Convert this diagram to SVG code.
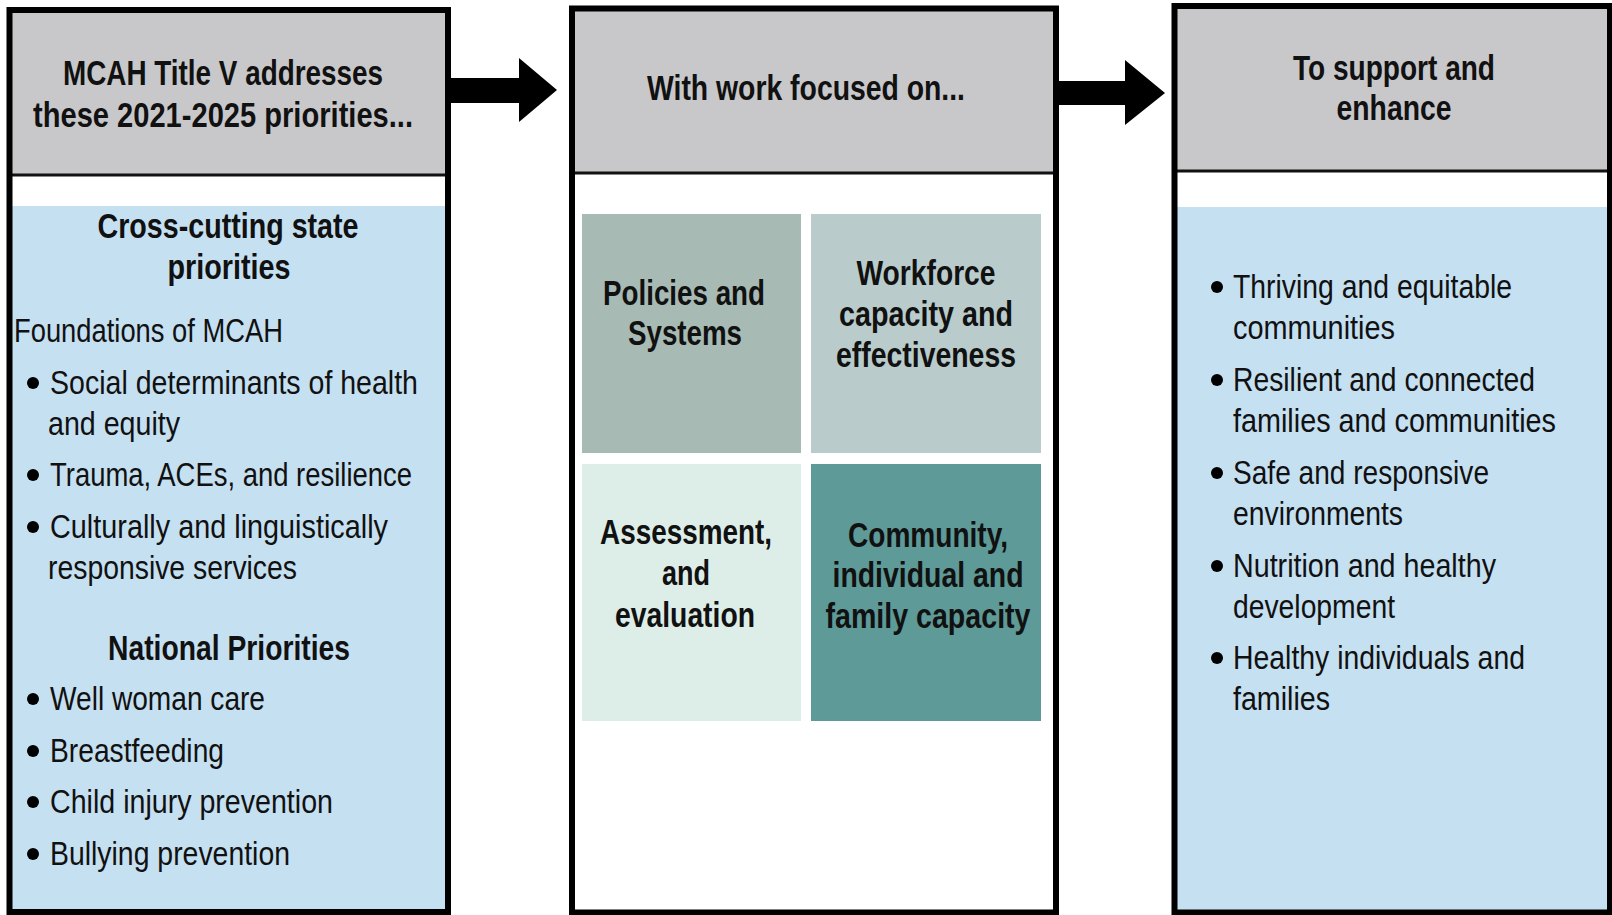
<svg xmlns="http://www.w3.org/2000/svg" width="1612" height="915" viewBox="0 0 1612 915">
<defs>
<style>
text{font-family:"Liberation Sans",Arial,sans-serif;fill:#111;}
.b{font-weight:bold;font-size:35px;text-anchor:middle;}
.r{font-size:33px;}
.rr{font-size:33px;}
.hdr{fill:#c8c8ca;}
.blue{fill:#c5e0f1;}
.frame{fill:none;stroke:#000;stroke-width:6;}
.div{stroke:#111;stroke-width:3;}
.dot{fill:#000;}
</style>
</defs>
<rect width="1612" height="915" fill="#fff"/>

<g id="connectors">
<polygon points="450,78 519,78 519,58 557,90 519,122 519,103 450,103" fill="#000"/>
<polygon points="1058,81 1125,81 1125,60 1165,93 1125,125 1125,105 1058,105" fill="#000"/>
</g>

<g id="priorities">
<rect class="hdr" x="12" y="13" width="434" height="161"/>
<rect class="blue" x="12" y="206" width="434" height="704"/>
<line class="div" x1="10" y1="175" x2="448" y2="175"/>
<rect class="frame" x="9.5" y="10" width="438.5" height="902"/>
<text class="b" x="223" y="85" textLength="320" lengthAdjust="spacingAndGlyphs">MCAH Title V addresses</text>
<text class="b" x="223" y="127" textLength="380" lengthAdjust="spacingAndGlyphs">these 2021-2025 priorities...</text>
<text class="b" x="228" y="238" textLength="261" lengthAdjust="spacingAndGlyphs">Cross-cutting state</text>
<text class="b" x="229" y="279" textLength="123" lengthAdjust="spacingAndGlyphs">priorities</text>
<text class="r" x="14" y="342" textLength="269" lengthAdjust="spacingAndGlyphs">Foundations of MCAH</text>
<circle class="dot" cx="33" cy="383" r="6"/>
<text class="r" x="50" y="394" textLength="368" lengthAdjust="spacingAndGlyphs">Social determinants of health</text>
<text class="r" x="48" y="435" textLength="132" lengthAdjust="spacingAndGlyphs">and equity</text>
<circle class="dot" cx="33" cy="475" r="6"/>
<text class="r" x="50" y="486" textLength="362" lengthAdjust="spacingAndGlyphs">Trauma, ACEs, and resilience</text>
<circle class="dot" cx="33" cy="527" r="6"/>
<text class="r" x="50" y="538" textLength="338" lengthAdjust="spacingAndGlyphs">Culturally and linguistically</text>
<text class="r" x="48" y="579" textLength="249" lengthAdjust="spacingAndGlyphs">responsive services</text>
<text class="b" x="229" y="660" textLength="242" lengthAdjust="spacingAndGlyphs">National Priorities</text>
<circle class="dot" cx="33" cy="699" r="6"/>
<text class="r" x="50" y="710" textLength="215" lengthAdjust="spacingAndGlyphs">Well woman care</text>
<circle class="dot" cx="33" cy="751" r="6"/>
<text class="r" x="50" y="762" textLength="174" lengthAdjust="spacingAndGlyphs">Breastfeeding</text>
<circle class="dot" cx="33" cy="802" r="6"/>
<text class="r" x="50" y="813" textLength="283" lengthAdjust="spacingAndGlyphs">Child injury prevention</text>
<circle class="dot" cx="33" cy="854" r="6"/>
<text class="r" x="50" y="865" textLength="240" lengthAdjust="spacingAndGlyphs">Bullying prevention</text>
</g>

<g id="work">
<rect class="hdr" x="574" y="10" width="480" height="162"/>
<line class="div" x1="572" y1="173" x2="1056" y2="173"/>
<rect class="frame" x="572" y="8.5" width="484" height="904" stroke-width="5"/>
<text class="b" x="806" y="100" textLength="318" lengthAdjust="spacingAndGlyphs">With work focused on...</text>
</g>

<g id="tile-policies">
<rect x="582" y="214" width="219" height="239" fill="#a7bab4"/>
<text class="b" x="684" y="305" textLength="162" lengthAdjust="spacingAndGlyphs">Policies and</text>
<text class="b" x="685" y="345" textLength="114" lengthAdjust="spacingAndGlyphs">Systems</text>
</g>
<g id="tile-workforce">
<rect x="811" y="214" width="230" height="239" fill="#b9cccb"/>
<text class="b" x="926" y="285" textLength="139" lengthAdjust="spacingAndGlyphs">Workforce</text>
<text class="b" x="926" y="326" textLength="174" lengthAdjust="spacingAndGlyphs">capacity and</text>
<text class="b" x="926" y="367" textLength="180" lengthAdjust="spacingAndGlyphs">effectiveness</text>
</g>
<g id="tile-assessment">
<rect x="582" y="464" width="219" height="257" fill="#ddeee9"/>
<text class="b" x="686" y="544" textLength="172" lengthAdjust="spacingAndGlyphs">Assessment,</text>
<text class="b" x="686" y="585" textLength="48" lengthAdjust="spacingAndGlyphs">and</text>
<text class="b" x="685" y="627" textLength="140" lengthAdjust="spacingAndGlyphs">evaluation</text>
</g>
<g id="tile-community">
<rect x="811" y="464" width="230" height="257" fill="#5d9a98"/>
<text class="b" x="928" y="547" textLength="160" lengthAdjust="spacingAndGlyphs">Community,</text>
<text class="b" x="928" y="587" textLength="191" lengthAdjust="spacingAndGlyphs">individual and</text>
<text class="b" x="928" y="628" textLength="205" lengthAdjust="spacingAndGlyphs">family capacity</text>
</g>

<g id="outcomes">
<rect class="hdr" x="1177" y="9" width="432" height="161"/>
<rect class="blue" x="1177" y="207" width="435" height="703"/>
<line class="div" x1="1175" y1="171" x2="1612" y2="171"/>
<rect class="frame" x="1174.5" y="6" width="435.5" height="906.5"/>
<text class="b" x="1394" y="80" textLength="202" lengthAdjust="spacingAndGlyphs">To support and</text>
<text class="b" x="1394" y="120" textLength="115" lengthAdjust="spacingAndGlyphs">enhance</text>
<circle class="dot" cx="1217" cy="287" r="6"/>
<text class="rr" x="1233" y="298" textLength="279" lengthAdjust="spacingAndGlyphs">Thriving and equitable</text>
<text class="rr" x="1233" y="339" textLength="162" lengthAdjust="spacingAndGlyphs">communities</text>
<circle class="dot" cx="1217" cy="380" r="6"/>
<text class="rr" x="1233" y="391" textLength="302" lengthAdjust="spacingAndGlyphs">Resilient and connected</text>
<text class="rr" x="1233" y="432" textLength="323" lengthAdjust="spacingAndGlyphs">families and communities</text>
<circle class="dot" cx="1217" cy="473" r="6"/>
<text class="rr" x="1233" y="484" textLength="256" lengthAdjust="spacingAndGlyphs">Safe and responsive</text>
<text class="rr" x="1233" y="525" textLength="170" lengthAdjust="spacingAndGlyphs">environments</text>
<circle class="dot" cx="1217" cy="566" r="6"/>
<text class="rr" x="1233" y="577" textLength="263" lengthAdjust="spacingAndGlyphs">Nutrition and healthy</text>
<text class="rr" x="1233" y="618" textLength="162" lengthAdjust="spacingAndGlyphs">development</text>
<circle class="dot" cx="1217" cy="658" r="6"/>
<text class="rr" x="1233" y="669" textLength="292" lengthAdjust="spacingAndGlyphs">Healthy individuals and</text>
<text class="rr" x="1233" y="710" textLength="97" lengthAdjust="spacingAndGlyphs">families</text>
</g>
</svg>
